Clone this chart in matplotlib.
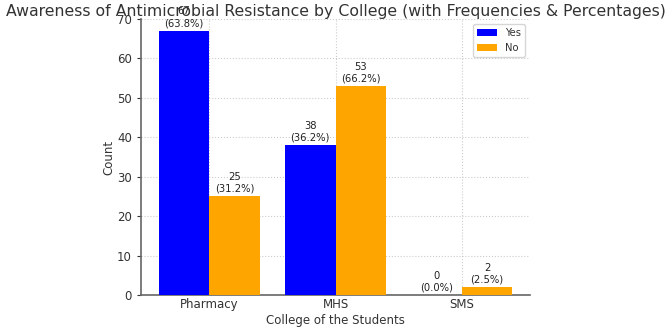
import matplotlib
matplotlib.use("Agg")
import matplotlib.pyplot as plt
import numpy as np

colleges = ["Pharmacy", "MHS", "SMS"]
yes_counts = [67, 38, 0]
no_counts = [25, 53, 2]
yes_pct = [63.8, 36.2, 0.0]
no_pct = [31.2, 66.2, 2.5]

plt.rcParams['font.family'] = ['DejaVu Sans']
text_color = '#333333'

fig = plt.figure(figsize=(6.69, 3.27), dpi=100)
ax = fig.add_axes([141/669, 1-295/327, (530-141)/669, (295-19)/327])

x = np.arange(len(colleges))
w = 0.4
b1 = ax.bar(x - w/2, yes_counts, w, color='#0000ff', label='Yes', zorder=3)
b2 = ax.bar(x + w/2, no_counts, w, color='#ffa500', label='No', zorder=3)

for bars, counts, pcts in [(b1, yes_counts, yes_pct), (b2, no_counts, no_pct)]:
    for bar, c, p in zip(bars, counts, pcts):
        ax.annotate(f"{c}\n({p:.1f}%)", (bar.get_x() + bar.get_width()/2, bar.get_height()),
                    xytext=(0, 2), textcoords='offset points', ha='center', va='bottom',
                    fontsize=7.2, color='#222222', zorder=4)

ax.set_ylim(0, 70)
ax.set_xticks(x)
ax.set_xticklabels(colleges)
ax.set_xlabel("College of the Students", fontsize=8.5, color=text_color, labelpad=1.5)
ax.set_ylabel("Count", fontsize=8.5, color=text_color, labelpad=1)
ax.set_title("Awareness of Antimicrobial Resistance by College (with Frequencies & Percentages)",
             fontsize=11.3, color=text_color, pad=1.5)
ax.tick_params(axis='both', labelsize=8.5, colors=text_color, length=3)
ax.tick_params(axis='x', length=0, pad=2.5)
ax.grid(True, linestyle=':', color='#cccccc', linewidth=0.8, zorder=0)
for s in ['top', 'right']:
    ax.spines[s].set_visible(False)
for s in ['left', 'bottom']:
    ax.spines[s].set_color('#666666')
    ax.spines[s].set_linewidth(1.2)
leg = ax.legend(loc='upper right', fontsize=7.2)
for t in leg.get_texts():
    t.set_color(text_color)

fig.savefig("out.png", dpi=100)
